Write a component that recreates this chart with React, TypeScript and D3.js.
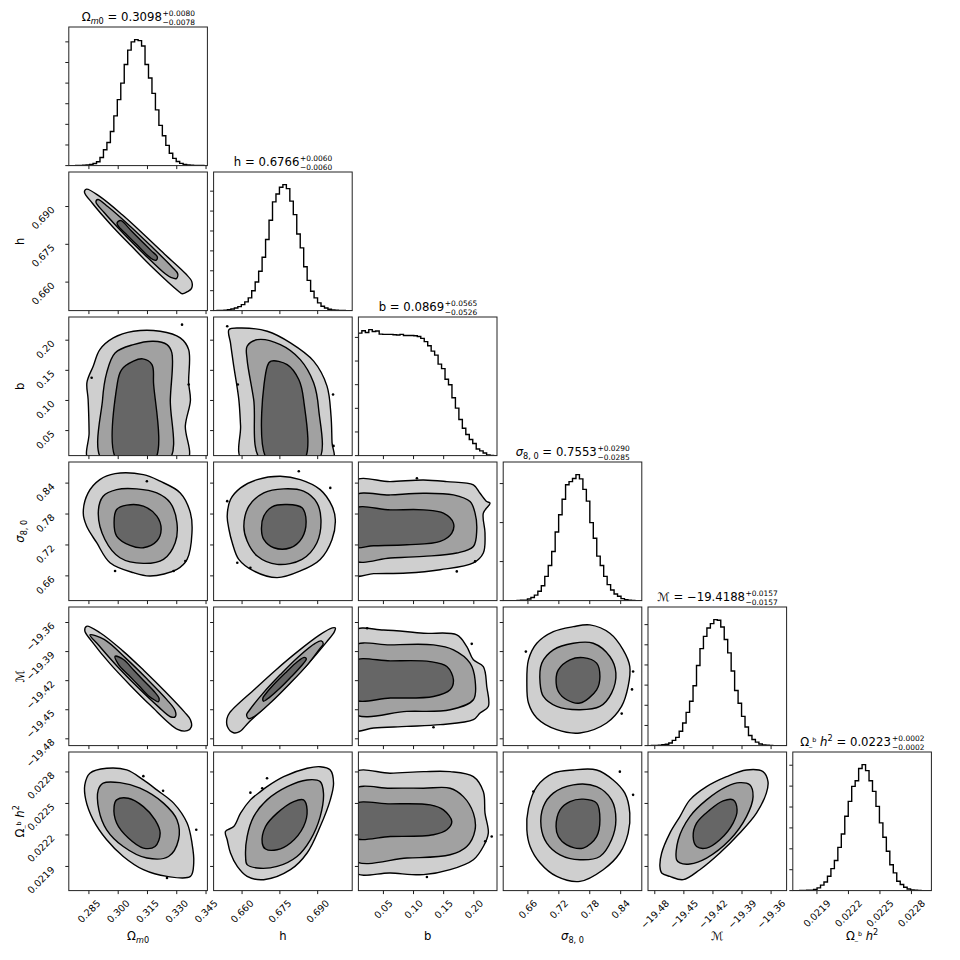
import React from "react";
import * as d3 from "d3";

type P = [number, number];

// ---------------- data ----------------
const DOM_OM: P = [0.2747, 0.3457];
const DOM_H: P = [0.6487, 0.7037];
const DOM_B: P = [0.0085, 0.2385];
const DOM_S8: P = [0.612, 0.881];
const DOM_M: P = [-19.487, -19.344];
const DOM_OB: P = [0.02167, 0.02299];

const TICKS_OM = [0.285, 0.3, 0.315, 0.33, 0.345];
const TICKS_H = [0.66, 0.675, 0.69];
const TICKS_B = [0.05, 0.1, 0.15, 0.2];
const TICKS_S8 = [0.66, 0.72, 0.78, 0.84];
const TICKS_M = [-19.48, -19.45, -19.42, -19.39, -19.36];
const TICKS_OB = [0.0219, 0.0222, 0.0225, 0.0228];

const LABELS_OM = ["0.285", "0.300", "0.315", "0.330", "0.345"];
const LABELS_H = ["0.660", "0.675", "0.690"];
const LABELS_B = ["0.05", "0.10", "0.15", "0.20"];
const LABELS_S8 = ["0.66", "0.72", "0.78", "0.84"];
const LABELS_M = ["\u221219.48", "\u221219.45", "\u221219.42", "\u221219.39", "\u221219.36"];
const LABELS_OB = ["0.0219", "0.0222", "0.0225", "0.0228"];

const TITLE_VAL = ["0.3098", "0.6766", "0.0869", "0.7553", "\u221219.4188", "0.0223"];
const TITLE_PLUS = ["+0.0080", "+0.0060", "+0.0565", "+0.0290", "+0.0157", "+0.0002"];
const TITLE_MINUS = ["\u22120.0078", "\u22120.0060", "\u22120.0526", "\u22120.0285", "\u22120.0157", "\u22120.0002"];

// 1D histograms (40 bins over each axis range)
const HIST_OM = [0, 1, 3, 8, 15, 30, 60, 100, 190, 390, 770, 1120, 1650, 2410, 3200, 4000, 4900, 5600, 6000, 6110, 6060, 5800, 4900, 4250, 3500, 2700, 1950, 1450, 980, 600, 350, 200, 110, 60, 30, 15, 8, 4, 2, 0];
const HIST_H = [0, 2, 6, 15, 40, 80, 130, 200, 300, 440, 640, 1000, 1440, 1980, 2680, 3570, 4540, 5460, 5860, 6200, 6330, 6130, 5500, 4820, 3850, 3150, 2200, 1520, 970, 640, 390, 220, 130, 70, 30, 15, 6, 2, 0, 0];
const HIST_B = [5180, 5280, 5210, 5330, 5250, 5270, 5140, 5130, 5130, 5130, 5110, 5100, 5130, 5080, 5080, 5080, 5070, 5040, 4960, 4820, 4650, 4420, 4250, 3870, 3680, 3230, 3000, 2450, 2010, 1530, 1160, 890, 680, 510, 280, 200, 110, 30, 10, 0];
const HIST_S8 = [0, 0, 0, 0, 5, 10, 10, 40, 80, 140, 240, 380, 620, 900, 1260, 1760, 2200, 2600, 2970, 3050, 3130, 3230, 3120, 2850, 2550, 2000, 1600, 1140, 900, 620, 410, 270, 170, 110, 50, 20, 10, 5, 0, 0];
const HIST_M = [0, 5, 10, 20, 40, 70, 130, 260, 410, 710, 1120, 1650, 2200, 2970, 3970, 4810, 5420, 5830, 6050, 6250, 6220, 5880, 5260, 4600, 3700, 2730, 2100, 1450, 920, 500, 300, 170, 80, 30, 15, 5, 0, 0, 0, 0];
const HIST_OB = [0, 0, 5, 10, 20, 20, 60, 130, 260, 410, 690, 1050, 1440, 2070, 2710, 3560, 4270, 4990, 5260, 5840, 6030, 5740, 5260, 4750, 4030, 3240, 2550, 1880, 1240, 850, 450, 290, 160, 80, 30, 15, 5, 0, 0, 0];
const HIST_TICK_STEP = 1000;

// 2D credible-region contours (outer / middle / inner), vertices in data units
const OM_H_L1: P[] = [[0.2838,0.6969],[0.2905,0.6940],[0.3021,0.6867],[0.3130,0.6790],[0.3238,0.6711],[0.3346,0.6633],[0.3377,0.6602],[0.3375,0.6574],[0.3354,0.6562],[0.3328,0.6554],[0.3309,0.6564],[0.3172,0.6661],[0.3069,0.6742],[0.2966,0.6825],[0.2869,0.6912],[0.2827,0.6958]];
const OM_H_L2: P[] = [[0.2896,0.6928],[0.2948,0.6899],[0.3064,0.6820],[0.3171,0.6741],[0.3276,0.6660],[0.3305,0.6633],[0.3298,0.6614],[0.3272,0.6618],[0.3241,0.6633],[0.3133,0.6711],[0.3028,0.6792],[0.2928,0.6876],[0.2886,0.6918]];
const OM_H_L3: P[] = [[0.3000,0.6841],[0.3015,0.6844],[0.3067,0.6804],[0.3118,0.6764],[0.3169,0.6725],[0.3200,0.6701],[0.3195,0.6687],[0.3179,0.6689],[0.3148,0.6708],[0.3096,0.6748],[0.3045,0.6787],[0.3004,0.6819],[0.2994,0.6833]];

const OM_B_L1: P[] = [[0.2851,0],[0.2851,0.0466],[0.2846,0.1017],[0.2840,0.1300],[0.2872,0.1569],[0.2906,0.1844],[0.2975,0.2038],[0.3078,0.2148],[0.3215,0.2148],[0.3318,0.2038],[0.3361,0.1844],[0.3361,0.1293],[0.3370,0.1000],[0.3344,0.0582],[0.3353,0]];
const OM_B_L2: P[] = [[0.2920,0],[0.2920,0.1017],[0.2941,0.1458],[0.2984,0.1789],[0.3078,0.1927],[0.3181,0.1983],[0.3250,0.1927],[0.3275,0.1789],[0.3267,0.1017],[0.3258,0]];
const OM_B_L3: P[] = [[0.2996,0],[0.2996,0.1293],[0.3018,0.1513],[0.3078,0.1652],[0.3126,0.1690],[0.3173,0.1596],[0.3181,0.1293],[0.3184,0]];

const H_B_L1: P[] = [[0.6601,0],[0.6594,0.0581],[0.6587,0.1017],[0.6567,0.1569],[0.6554,0.1955],[0.6548,0.2175],[0.6594,0.2203],[0.6700,0.2148],[0.6792,0.1955],[0.6884,0.1652],[0.6937,0.1238],[0.6953,0.0742],[0.6957,0.0300],[0.6961,0]];
const H_B_L2: P[] = [[0.6677,0],[0.6646,0.1017],[0.6620,0.1678],[0.6620,0.1900],[0.6660,0.2009],[0.6752,0.1927],[0.6831,0.1678],[0.6884,0.1293],[0.6904,0.0851],[0.6901,0]];
const H_B_L3: P[] = [[0.6703,0],[0.6700,0.1569],[0.6715,0.1652],[0.6779,0.1596],[0.6825,0.1348],[0.6844,0.1017],[0.6844,0]];

const OM_S8_L1: P[] = [[0.2821,0.7823],[0.2846,0.8210],[0.2906,0.8468],[0.2984,0.8584],[0.3129,0.8564],[0.3215,0.8437],[0.3318,0.8210],[0.3370,0.7823],[0.3378,0.7436],[0.3353,0.6920],[0.3301,0.6726],[0.3164,0.6598],[0.3078,0.6662],[0.2958,0.6856],[0.2890,0.7243],[0.2838,0.7566]];
const OM_S8_L2: P[] = [[0.2898,0.7823],[0.2923,0.8146],[0.2992,0.8274],[0.3095,0.8288],[0.3198,0.8210],[0.3267,0.8017],[0.3301,0.7630],[0.3292,0.7243],[0.3232,0.6920],[0.3129,0.6842],[0.3009,0.6952],[0.2932,0.7306]];
const OM_S8_L3: P[] = [[0.2979,0.7630],[0.2992,0.7887],[0.3044,0.7972],[0.3129,0.7953],[0.3198,0.7759],[0.3220,0.7500],[0.3198,0.7276],[0.3129,0.7146],[0.3061,0.7190],[0.2992,0.7372]];

const H_S8_L1: P[] = [[0.6541,0.7759],[0.6554,0.8081],[0.6594,0.8307],[0.6660,0.8468],[0.6752,0.8533],[0.6831,0.8468],[0.6910,0.8274],[0.6957,0.7953],[0.6970,0.7693],[0.6957,0.7307],[0.6910,0.6920],[0.6831,0.6695],[0.6739,0.6565],[0.6646,0.6695],[0.6587,0.6920],[0.6561,0.7243],[0.6548,0.7500]];
const H_S8_L2: P[] = [[0.6607,0.7566],[0.6627,0.7953],[0.6686,0.8210],[0.6765,0.8288],[0.6844,0.8243],[0.6897,0.8017],[0.6913,0.7693],[0.6897,0.7243],[0.6838,0.6920],[0.6739,0.6823],[0.6660,0.6985],[0.6620,0.7276]];
const H_S8_L3: P[] = [[0.6677,0.7500],[0.6686,0.7759],[0.6719,0.7939],[0.6779,0.7984],[0.6838,0.7920],[0.6854,0.7663],[0.6838,0.7339],[0.6792,0.7146],[0.6726,0.7146],[0.6686,0.7307]];

const B_S8_L1: P[] = [[0,0.8429],[0.0615,0.8429],[0.1166,0.8462],[0.1553,0.8429],[0.1993,0.8365],[0.2104,0.8204],[0.2215,0.8042],[0.2269,0.8011],[0.2158,0.7817],[0.2186,0.7430],[0.2158,0.7043],[0.1993,0.6850],[0.1442,0.6720],[0.0891,0.6656],[0.0338,0.6643],[0,0.6623]];
const B_S8_L2: P[] = [[0,0.8139],[0.0615,0.8171],[0.1166,0.8204],[0.1662,0.8171],[0.1938,0.8042],[0.2021,0.7817],[0.2049,0.7494],[0.1993,0.7171],[0.1718,0.7043],[0.1166,0.6978],[0.0615,0.6947],[0,0.6914]];
const B_S8_L3: P[] = [[0,0.7895],[0.0615,0.7881],[0.1166,0.7881],[0.1496,0.7817],[0.1662,0.7624],[0.1635,0.7430],[0.1442,0.7268],[0.0891,0.7204],[0.0338,0.7185],[0,0.7171]];

const OM_M_L1: P[] = [[0.2838,-19.3639],[0.2909,-19.3708],[0.3025,-19.3895],[0.3133,-19.4098],[0.3238,-19.4307],[0.3340,-19.4525],[0.3370,-19.4603],[0.3375,-19.4675],[0.3354,-19.4716],[0.3304,-19.4702],[0.3165,-19.4454],[0.3060,-19.4244],[0.2959,-19.4027],[0.2865,-19.3794],[0.2829,-19.3687]];
const OM_M_L2: P[] = [[0.2855,-19.3728],[0.2928,-19.3774],[0.3040,-19.3970],[0.3146,-19.4178],[0.3248,-19.4393],[0.3292,-19.4510],[0.3292,-19.4572],[0.3267,-19.4572],[0.3208,-19.4473],[0.3100,-19.4268],[0.2997,-19.4056],[0.2899,-19.3832]];
const OM_M_L3: P[] = [[0.2984,-19.3949],[0.3027,-19.3982],[0.3079,-19.4090],[0.3130,-19.4198],[0.3182,-19.4306],[0.3210,-19.4387],[0.3205,-19.4418],[0.3184,-19.4397],[0.3156,-19.4358],[0.3105,-19.4250],[0.3053,-19.4142],[0.3002,-19.4034]];

const H_M_L1: P[] = [[0.6540,-19.4592],[0.6551,-19.4530],[0.6652,-19.4283],[0.6734,-19.4089],[0.6819,-19.3903],[0.6908,-19.3728],[0.6958,-19.3656],[0.6970,-19.3656],[0.6966,-19.3697],[0.6935,-19.3802],[0.6863,-19.4022],[0.6786,-19.4231],[0.6707,-19.4433],[0.6626,-19.4631],[0.6590,-19.4726],[0.6566,-19.4737],[0.6542,-19.4675]];
const H_M_L2: P[] = [[0.6618,-19.4551],[0.6629,-19.4505],[0.6681,-19.4336],[0.6751,-19.4140],[0.6825,-19.3950],[0.6890,-19.3815],[0.6914,-19.3790],[0.6922,-19.3821],[0.6910,-19.3864],[0.6859,-19.4037],[0.6789,-19.4232],[0.6715,-19.4423],[0.6652,-19.4563],[0.6626,-19.4592]];
const H_M_L3: P[] = [[0.6683,-19.4376],[0.6694,-19.4335],[0.6733,-19.4220],[0.6775,-19.4112],[0.6818,-19.4008],[0.6847,-19.3960],[0.6855,-19.3975],[0.6834,-19.4051],[0.6794,-19.4163],[0.6753,-19.4271],[0.6709,-19.4372],[0.6685,-19.4412]];

const B_M_L1: P[] = [[0,-19.3694],[0.0504,-19.3677],[0.1166,-19.3711],[0.1718,-19.3728],[0.1884,-19.3849],[0.1993,-19.3985],[0.2158,-19.4054],[0.2215,-19.4260],[0.2241,-19.4466],[0.2104,-19.4534],[0.1993,-19.4603],[0.1442,-19.4654],[0.0891,-19.4672],[0.0338,-19.4688],[0,-19.4706]];
const B_M_L2: P[] = [[0,-19.3849],[0.0615,-19.3831],[0.1331,-19.3831],[0.1662,-19.3882],[0.1938,-19.4019],[0.2021,-19.4191],[0.1993,-19.4397],[0.1607,-19.4500],[0.0891,-19.4517],[0,-19.4534]];
const B_M_L3: P[] = [[0,-19.4003],[0.0615,-19.3996],[0.1276,-19.4003],[0.1553,-19.4054],[0.1662,-19.4191],[0.1607,-19.4294],[0.1331,-19.4363],[0.0615,-19.4379],[0,-19.4387]];

const S8_M_L1: P[] = [[0.6579,-19.4225],[0.6610,-19.3985],[0.6772,-19.3814],[0.7093,-19.3694],[0.7480,-19.3643],[0.7803,-19.3625],[0.8190,-19.3711],[0.8448,-19.3882],[0.8577,-19.4054],[0.8545,-19.4260],[0.8417,-19.4466],[0.8127,-19.4637],[0.7610,-19.4740],[0.7159,-19.4706],[0.6772,-19.4585],[0.6610,-19.4431]];
const S8_M_L2: P[] = [[0.6836,-19.4225],[0.6869,-19.4019],[0.7093,-19.3882],[0.7480,-19.3814],[0.7867,-19.3814],[0.8190,-19.3951],[0.8307,-19.4122],[0.8223,-19.4328],[0.7997,-19.4466],[0.7610,-19.4500],[0.7159,-19.4466],[0.6900,-19.4363]];
const S8_M_L3: P[] = [[0.7146,-19.4191],[0.7190,-19.4088],[0.7416,-19.3985],[0.7674,-19.3962],[0.7933,-19.4019],[0.7997,-19.4157],[0.7933,-19.4294],[0.7610,-19.4431],[0.7353,-19.4397],[0.7190,-19.4312]];

const OM_OB_L1: P[] = [[0.2829,0.022677],[0.2855,0.022788],[0.2941,0.022835],[0.3044,0.022819],[0.3129,0.022724],[0.3198,0.022629],[0.3284,0.022503],[0.3353,0.022313],[0.3378,0.022123],[0.3387,0.021933],[0.3370,0.021805],[0.3250,0.021805],[0.3129,0.021869],[0.3026,0.021995],[0.2941,0.022154],[0.2872,0.022344],[0.2834,0.022534]];
const OM_OB_L2: P[] = [[0.2898,0.022629],[0.2923,0.022693],[0.3009,0.022698],[0.3112,0.022645],[0.3232,0.022503],[0.3301,0.022344],[0.3309,0.022154],[0.3258,0.021995],[0.3147,0.021980],[0.3026,0.022090],[0.2941,0.022249],[0.2901,0.022439]];
const OM_OB_L3: P[] = [[0.2979,0.022470],[0.2992,0.022534],[0.3052,0.022550],[0.3129,0.022470],[0.3189,0.022344],[0.3215,0.022218],[0.3189,0.022090],[0.3129,0.022075],[0.3052,0.022170],[0.2992,0.022313]];

const H_OB_L1: P[] = [[0.6541,0.022154],[0.6534,0.022233],[0.6567,0.022280],[0.6594,0.022408],[0.6633,0.022534],[0.6673,0.022613],[0.6699,0.022660],[0.6765,0.022755],[0.6858,0.022835],[0.6910,0.022850],[0.6950,0.022819],[0.6963,0.022693],[0.6950,0.022534],[0.6910,0.022280],[0.6858,0.022028],[0.6792,0.021869],[0.6686,0.021774],[0.6620,0.021805],[0.6581,0.021900],[0.6554,0.022028]];
const H_OB_L2: P[] = [[0.6614,0.021995],[0.6620,0.022185],[0.6646,0.022375],[0.6699,0.022534],[0.6779,0.022660],[0.6858,0.022724],[0.6910,0.022708],[0.6923,0.022598],[0.6910,0.022375],[0.6871,0.022154],[0.6818,0.021995],[0.6739,0.021900],[0.6660,0.021885],[0.6620,0.021917]];
const H_OB_L3: P[] = [[0.6680,0.022123],[0.6693,0.022280],[0.6739,0.022408],[0.6805,0.022518],[0.6844,0.022534],[0.6858,0.022439],[0.6844,0.022280],[0.6792,0.022123],[0.6739,0.022059],[0.6693,0.022066]];

const B_OB_L1: P[] = [[0,0.022788],[0.0615,0.022788],[0.1166,0.022803],[0.1607,0.022803],[0.1993,0.022755],[0.2158,0.022613],[0.2186,0.022408],[0.2241,0.022218],[0.2158,0.022090],[0.1993,0.021964],[0.1607,0.021869],[0.1166,0.021822],[0.0615,0.021838],[0,0.021853]];
const B_OB_L2: P[] = [[0,0.022629],[0.0615,0.022645],[0.1166,0.022645],[0.1607,0.022645],[0.1827,0.022565],[0.1993,0.022408],[0.2021,0.022249],[0.1884,0.022090],[0.1607,0.022011],[0.0891,0.021980],[0,0.021964]];
const B_OB_L3: P[] = [[0,0.022487],[0.0615,0.022496],[0.1276,0.022487],[0.1496,0.022439],[0.1635,0.022328],[0.1553,0.022249],[0.1331,0.022202],[0.0615,0.022185],[0,0.022180]];

const S8_OB_L1: P[] = [[0.6579,0.022249],[0.6610,0.022455],[0.6772,0.022660],[0.7093,0.022788],[0.7480,0.022819],[0.7933,0.022819],[0.8254,0.022724],[0.8481,0.022598],[0.8577,0.022408],[0.8545,0.022218],[0.8384,0.022028],[0.8061,0.021869],[0.7610,0.021758],[0.7159,0.021805],[0.6836,0.021933],[0.6642,0.022090]];
const S8_OB_L2: P[] = [[0.6855,0.022280],[0.6900,0.022470],[0.7093,0.022598],[0.7480,0.022677],[0.7933,0.022660],[0.8223,0.022534],[0.8307,0.022344],[0.8223,0.022154],[0.7997,0.021995],[0.7610,0.021964],[0.7223,0.022011],[0.6966,0.022123]];
const S8_OB_L3: P[] = [[0.7146,0.022280],[0.7223,0.022439],[0.7416,0.022518],[0.7674,0.022541],[0.7933,0.022503],[0.7997,0.022344],[0.7933,0.022185],[0.7674,0.022075],[0.7353,0.022106],[0.7190,0.022185]];

const M_OB_L1: P[] = [[-19.4747,0.021900],[-19.4729,0.022028],[-19.4644,0.022218],[-19.4541,0.022375],[-19.4438,0.022534],[-19.4266,0.022660],[-19.4060,0.022755],[-19.3854,0.022819],[-19.3684,0.022803],[-19.3632,0.022708],[-19.3649,0.022598],[-19.3751,0.022408],[-19.3923,0.022218],[-19.4129,0.022028],[-19.4335,0.021869],[-19.4507,0.021774],[-19.4644,0.021805],[-19.4729,0.021838]];
const M_OB_L2: P[] = [[-19.4575,0.021964],[-19.4558,0.022154],[-19.4438,0.022375],[-19.4266,0.022534],[-19.4060,0.022660],[-19.3923,0.022698],[-19.3820,0.022677],[-19.3786,0.022565],[-19.3854,0.022375],[-19.4026,0.022154],[-19.4266,0.021980],[-19.4438,0.021923],[-19.4541,0.021933]];
const M_OB_L3: P[] = [[-19.4404,0.022185],[-19.4369,0.022313],[-19.4232,0.022439],[-19.4095,0.022525],[-19.3992,0.022534],[-19.3951,0.022439],[-19.3992,0.022313],[-19.4129,0.022154],[-19.4266,0.022075],[-19.4369,0.022090]];

// isolated samples outside the outer contour
const DOTS_OM_B: P[] = [[0.2864,0.1376],[0.3327,0.2258],[0.3361,0.1265]];
const DOTS_H_B: P[] = [[0.6541,0.2231],[0.6583,0.1265],[0.6963,0.0246],[0.6961,0.1099]];
const DOTS_OM_S8: P[] = [[0.2984,0.6695],[0.3147,0.8437],[0.3344,0.6889],[0.3284,0.6695]];
const DOTS_H_S8: P[] = [[0.6825,0.8630],[0.6950,0.8307],[0.6541,0.8050],[0.6633,0.6759],[0.6581,0.6856]];
const DOTS_B_S8: P[] = [[0.1056,0.8495],[0.2021,0.6881],[0.1718,0.6687]];
const DOTS_B_M: P[] = [[0.0230,-19.3660],[0.1331,-19.4680],[0.1966,-19.3820]];
const DOTS_S8_M: P[] = [[0.6560,-19.3900],[0.8641,-19.4106],[0.8620,-19.4290],[0.8420,-19.4540]];
const DOTS_OM_OB: P[] = [[0.3129,0.022760],[0.3230,0.022620],[0.3400,0.022249],[0.3250,0.021790]];
const DOTS_H_OB: P[] = [[0.6633,0.022603],[0.6680,0.022645],[0.6699,0.022740]];
const DOTS_B_OB: P[] = [[0.2297,0.022185],[0.1222,0.021800],[0.2190,0.022140]];
const DOTS_S8_OB: P[] = [[0.6706,0.022613],[0.8384,0.022803],[0.8641,0.022582]];

// ---------------- tables built from the data ----------------
const DOMAINS: P[] = [DOM_OM, DOM_H, DOM_B, DOM_S8, DOM_M, DOM_OB];
const TICKS = [TICKS_OM, TICKS_H, TICKS_B, TICKS_S8, TICKS_M, TICKS_OB];
const TICK_LABELS = [LABELS_OM, LABELS_H, LABELS_B, LABELS_S8, LABELS_M, LABELS_OB];
const HISTS = [HIST_OM, HIST_H, HIST_B, HIST_S8, HIST_M, HIST_OB];
const PANELS: { i: number; j: number; levels: P[][]; dots: P[] }[] = [
  { i: 1, j: 0, levels: [OM_H_L1, OM_H_L2, OM_H_L3], dots: [] },
  { i: 2, j: 0, levels: [OM_B_L1, OM_B_L2, OM_B_L3], dots: DOTS_OM_B },
  { i: 2, j: 1, levels: [H_B_L1, H_B_L2, H_B_L3], dots: DOTS_H_B },
  { i: 3, j: 0, levels: [OM_S8_L1, OM_S8_L2, OM_S8_L3], dots: DOTS_OM_S8 },
  { i: 3, j: 1, levels: [H_S8_L1, H_S8_L2, H_S8_L3], dots: DOTS_H_S8 },
  { i: 3, j: 2, levels: [B_S8_L1, B_S8_L2, B_S8_L3], dots: DOTS_B_S8 },
  { i: 4, j: 0, levels: [OM_M_L1, OM_M_L2, OM_M_L3], dots: [] },
  { i: 4, j: 1, levels: [H_M_L1, H_M_L2, H_M_L3], dots: [] },
  { i: 4, j: 2, levels: [B_M_L1, B_M_L2, B_M_L3], dots: DOTS_B_M },
  { i: 4, j: 3, levels: [S8_M_L1, S8_M_L2, S8_M_L3], dots: DOTS_S8_M },
  { i: 5, j: 0, levels: [OM_OB_L1, OM_OB_L2, OM_OB_L3], dots: DOTS_OM_OB },
  { i: 5, j: 1, levels: [H_OB_L1, H_OB_L2, H_OB_L3], dots: DOTS_H_OB },
  { i: 5, j: 2, levels: [B_OB_L1, B_OB_L2, B_OB_L3], dots: DOTS_B_OB },
  { i: 5, j: 3, levels: [S8_OB_L1, S8_OB_L2, S8_OB_L3], dots: DOTS_S8_OB },
  { i: 5, j: 4, levels: [M_OB_L1, M_OB_L2, M_OB_L3], dots: [] },
];

// ---------------- layout & style ----------------
const FONT = "'DejaVu Sans', 'Liberation Sans', sans-serif";
const COL0 = 68.8, ROW0 = 27, STEP_X = 144.8, STEP_Y = 145, SIZE = 138.6;
const TITLE_FS = 11.7, LABEL_FS = 11.6, TICK_FS = 9.6;
const SCRIPT_SCALE = 0.64;
const FILLS = ["#cfcfcf", "#a1a1a1", "#666666"];
const N_BINS = 40;

const colLeft = (j: number) => COL0 + j * STEP_X;
const rowTop = (i: number) => ROW0 + i * STEP_Y;

const xScales = DOMAINS.map((d, k) => d3.scaleLinear().domain(d).range([colLeft(k), colLeft(k) + SIZE]));
const yScales = DOMAINS.map((d, k) => d3.scaleLinear().domain(d).range([rowTop(k) + SIZE, rowTop(k)]));

const CW: Record<string, number> = {
  ".": 0.318, ",": 0.318, " ": 0.318, "=": 0.838, "+": 0.838, "\u2212": 0.838, "-": 0.361,
  h: 0.634, b: 0.635, m: 0.974,
};
for (let d = 0; d <= 9; d++) CW[String(d)] = 0.636;
const tw = (s: string, fs: number) => {
  let w = 0;
  for (const ch of s) w += CW[ch] ?? 0.62;
  return w * fs;
};
const SYM_W = [1.892, 0.634, 0.635, 1.97, 1.05, 2.843];

function sym(k: number, rest: string): React.ReactNode[] {
  switch (k) {
    case 0:
      return [
        <tspan key="a">Ω</tspan>,
        <tspan key="b" fontSize="70%" dy="0.33em" fontStyle="italic">m</tspan>,
        <tspan key="c" fontSize="70%">0</tspan>,
        <tspan key="d" dy="-0.231em">{rest}</tspan>,
      ];
    case 1:
      return [<tspan key="a">h</tspan>, <tspan key="d">{rest}</tspan>];
    case 2:
      return [<tspan key="a">b</tspan>, <tspan key="d">{rest}</tspan>];
    case 3:
      return [
        <tspan key="a" fontStyle="italic">σ</tspan>,
        <tspan key="b" fontSize="70%" dy="0.33em">8, 0</tspan>,
        <tspan key="d" dy="-0.231em">{rest}</tspan>,
      ];
    case 4:
      return [<tspan key="a">ℳ</tspan>, <tspan key="d">{rest}</tspan>];
    default:
      return [
        <tspan key="a">Ω</tspan>,
        <tspan key="b" fontSize="55%">_</tspan>,
        <tspan key="c" fontSize="55%" dy="-0.55em">b</tspan>,
        <tspan key="e" dy="0.3025em">{" "}</tspan>,
        <tspan key="f" fontStyle="italic">h</tspan>,
        <tspan key="g" fontSize="70%" dy="-0.6em">2</tspan>,
        <tspan key="d" dy="0.42em">{rest}</tspan>,
      ];
  }
}

const contourLine = (j: number, i: number) =>
  d3
    .line<P>()
    .x((p) => xScales[j](p[0]))
    .y((p) => yScales[i](p[1]))
    .curve(d3.curveCatmullRomClosed.alpha(0.5));

function XTicks({ i, j }: { i: number; j: number }) {
  const bottom = rowTop(i) + SIZE;
  return (
    <g>
      {TICKS[j].map((t, n) => (
        <line key={n} x1={xScales[j](t)} x2={xScales[j](t)} y1={bottom} y2={bottom + 3.5} stroke="#000" strokeWidth={0.9} />
      ))}
    </g>
  );
}

function Panel2D({ i, j, levels, dots }: { i: number; j: number; levels: P[][]; dots: P[] }) {
  const x0 = colLeft(j), y0 = rowTop(i);
  const line = contourLine(j, i);
  const id = `clip-${i}-${j}`;
  return (
    <g>
      <clipPath id={id}>
        <rect x={x0} y={y0} width={SIZE} height={SIZE} />
      </clipPath>
      <g clipPath={`url(#${id})`}>
        {levels.map((poly, n) => (
          <path key={n} d={line(poly) ?? ""} fill={FILLS[n]} stroke="#000" strokeWidth={1.4} strokeLinejoin="round" />
        ))}
        {dots.map((p, n) => (
          <circle key={n} cx={xScales[j](p[0])} cy={yScales[i](p[1])} r={1.3} fill="#000" />
        ))}
      </g>
      <XTicks i={i} j={j} />
      {TICKS[i].map((t, n) => (
        <line key={n} x1={x0 - 3.5} x2={x0} y1={yScales[i](t)} y2={yScales[i](t)} stroke="#000" strokeWidth={0.9} />
      ))}
      <rect x={x0} y={y0} width={SIZE} height={SIZE} fill="none" stroke="#222" strokeWidth={1} />
    </g>
  );
}

function Hist({ k }: { k: number }) {
  const counts = HISTS[k];
  const d = DOMAINS[k];
  const x0 = colLeft(k), y0 = rowTop(k);
  const maxC = d3.max(counts) ?? 1;
  const yh = d3.scaleLinear().domain([0, 1.1 * maxC]).range([y0 + SIZE, y0]);
  const edges = d3.range(N_BINS + 1).map((b) => d[0] + ((d[1] - d[0]) * b) / N_BINS);
  const pts: P[] = [[edges[0], 0]];
  counts.forEach((c, b) => {
    pts.push([edges[b], c]);
    pts.push([edges[b + 1], c]);
  });
  pts.push([edges[N_BINS], 0]);
  const line = d3
    .line<P>()
    .x((p) => xScales[k](p[0]))
    .y((p) => yh(p[1]));
  const hticks = d3.range(0, 1.1 * maxC, HIST_TICK_STEP);
  const id = `clip-h-${k}`;
  return (
    <g>
      <clipPath id={id}>
        <rect x={x0} y={y0} width={SIZE} height={SIZE} />
      </clipPath>
      <path d={line(pts) ?? ""} fill="none" stroke="#000" strokeWidth={1.4} clipPath={`url(#${id})`} />
      <XTicks i={k} j={k} />
      {hticks.map((t, n) => (
        <line key={n} x1={x0 - 3.5} x2={x0} y1={yh(t)} y2={yh(t)} stroke="#000" strokeWidth={0.9} />
      ))}
      <rect x={x0} y={y0} width={SIZE} height={SIZE} fill="none" stroke="#222" strokeWidth={1} />
    </g>
  );
}

function Title({ k }: { k: number }) {
  const fs = TITLE_FS;
  const rest = " = " + TITLE_VAL[k];
  const mainW = SYM_W[k] * fs + tw(rest, fs);
  const scriptW = SCRIPT_SCALE * Math.max(tw(TITLE_PLUS[k], fs), tw(TITLE_MINUS[k], fs));
  const cx = colLeft(k) + SIZE / 2;
  const base = rowTop(k) - 6;
  const xStart = cx - (mainW + scriptW) / 2;
  const xs = xStart + mainW + 0.5;
  return (
    <g>
      <text x={xStart} y={base} fontSize={fs} style={{ whiteSpace: "pre" }}>
        {sym(k, rest)}
      </text>
      <text x={xs} y={base - 0.41 * fs} fontSize={SCRIPT_SCALE * fs}>{TITLE_PLUS[k]}</text>
      <text x={xs} y={base + 0.36 * fs} fontSize={SCRIPT_SCALE * fs}>{TITLE_MINUS[k]}</text>
    </g>
  );
}

export default function App() {
  const bottomRow = 5;
  const axisBottom = rowTop(bottomRow) + SIZE;
  const axisLeft = colLeft(0);
  const hv = 0.73 * TICK_FS;
  return (
    <svg
      width={960}
      height={960}
      viewBox="0 0 960 960"
      style={{ position: "absolute", left: 0, top: 0, background: "#fff" }}
      fontFamily={FONT}
    >
      <rect x={0} y={0} width={960} height={960} fill="#fff" />
      {PANELS.map((p) => (
        <Panel2D key={`${p.i}-${p.j}`} {...p} />
      ))}
      {DOMAINS.map((_, k) => (
        <Hist key={k} k={k} />
      ))}
      {DOMAINS.map((_, k) => (
        <Title key={k} k={k} />
      ))}
      {DOMAINS.map((_, j) =>
        TICKS[j].map((t, n) => {
          const s = TICK_LABELS[j][n];
          const half = 0.354 * (tw(s, TICK_FS) + hv);
          const px = xScales[j](t);
          const py = axisBottom + 8.5 + half;
          return (
            <text key={`xl-${j}-${n}`} transform={`translate(${px},${py}) rotate(-45)`} textAnchor="middle" dy="0.36em" fontSize={TICK_FS}>
              {s}
            </text>
          );
        })
      )}
      {DOMAINS.map((_, i) =>
        i === 0
          ? null
          : TICKS[i].map((t, n) => {
              const s = TICK_LABELS[i][n];
              const half = 0.354 * (tw(s, TICK_FS) + hv);
              const px = axisLeft - 13.5 - half;
              const py = yScales[i](t) - 1 + half;
              return (
                <text key={`yl-${i}-${n}`} transform={`translate(${px},${py}) rotate(-45)`} textAnchor="middle" dy="0.36em" fontSize={TICK_FS}>
                  {s}
                </text>
              );
            })
      )}
      {DOMAINS.map((_, k) => (
        <text key={`xa-${k}`} x={colLeft(k) + SIZE / 2} y={940} textAnchor="middle" fontSize={LABEL_FS} style={{ whiteSpace: "pre" }}>
          {sym(k, "")}
        </text>
      ))}
      {DOMAINS.map((_, k) =>
        k === 0 ? null : (
          <text
            key={`ya-${k}`}
            transform={`translate(24,${rowTop(k) + SIZE / 2}) rotate(-90)`}
            textAnchor="middle"
            fontSize={LABEL_FS}
            style={{ whiteSpace: "pre" }}
          >
            {sym(k, "")}
          </text>
        )
      )}
    </svg>
  );
}
